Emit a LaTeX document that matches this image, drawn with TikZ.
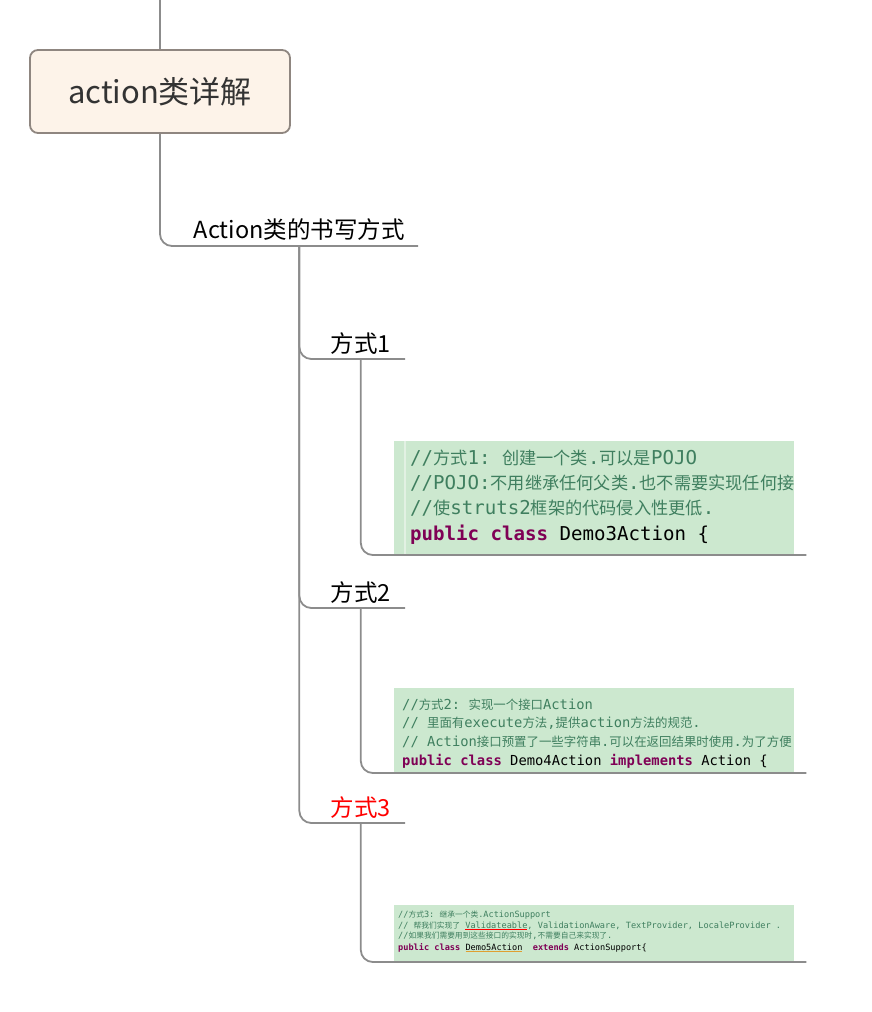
\documentclass[tikz,border=0pt]{standalone}
\usepackage{fontspec}
\setmainfont{Noto Sans CJK SC}
\setmonofont{DejaVu Sans Mono}
\newfontfamily\zhfont[Scale=0.9]{Noto Sans CJK SC}
\newcommand\zh[1]{{\zhfont #1}}
\definecolor{linegray}{HTML}{8C8C8C}
\definecolor{boxborder}{HTML}{8F8680}
\definecolor{rootfill}{HTML}{FDF3E9}
\definecolor{darktext}{HTML}{333333}
\definecolor{codebg}{HTML}{CCE8CF}
\definecolor{gutterline}{HTML}{E2F1E3}
\definecolor{commentgreen}{HTML}{3F7F5F}
\definecolor{keyword}{HTML}{7F0055}
\definecolor{warnyellow}{HTML}{E0A030}
\newcommand\kw[1]{\textcolor{keyword}{\bfseries #1}}
% marked word: a thin coloured line below it
\newcommand\markword[2]{\setbox0\hbox{#2}\rlap{\textcolor{#1}{\rule[-1.6pt]{\wd0}{0.6pt}}}\box0}
\newcommand\codeA{\ttfamily\fontsize{19.1}{24}\selectfont}
\newcommand\codeB{\ttfamily\fontsize{13.8}{18}\selectfont}
\newcommand\codeC{\ttfamily\fontsize{8.6}{11}\selectfont}
\begin{document}
\begin{tikzpicture}[x=1pt,y=-1pt,
        branch/.style={draw=linegray,line width=1.8pt,rounded corners=12pt},
        rootbox/.style={draw=boxborder,line width=1.8pt,fill=rootfill,
            rounded corners=8pt,minimum width=260pt,minimum height=83pt,
            text=darktext,font=\fontsize{31}{36}\selectfont},
        topic/.style={inner xsep=13pt,inner ysep=7pt,text depth=0pt,
            font=\fontsize{23.5}{28}\selectfont},
        way/.style={inner xsep=14pt,inner ysep=6pt,text depth=0pt,
            font=\fontsize{23.5}{28}\selectfont},
        codebox/.style={fill=codebg,inner sep=0pt,minimum width=400pt},
        codeline/.style={anchor=base west,inner sep=0pt,text=commentgreen}]
    \useasboundingbox (0,0) rectangle (872,1012);

    \coordinate (top) at (160,0);
    \node[rootbox] (root) at (160,91.5) {action类详解};
    \node[topic,anchor=south east] (ways) at (418,246) {Action类的书写方式};
    \node[way,anchor=south east] (way1) at (405,359) {方式1};
    \node[way,anchor=south east] (way2) at (405,608) {方式2};
    \node[way,anchor=south east,text=red] (way3) at (405,823) {方式3};

    % code pictures
    \node[codebox,minimum height=114pt,anchor=south west] (code1) at (394,555) {};
    \node[codebox,minimum height=85pt,anchor=south west] (code2) at (394,773) {};
    \node[codebox,minimum height=57pt,anchor=south west] (code3) at (394,962) {};
    \draw[gutterline,line width=1.5pt] ([xshift=11pt]code1.north west) -- ([xshift=11pt]code1.south west);

    \begin{scope}
    \clip (code1.south west) rectangle (code1.north east);
    \node[codeline,font=\codeA] (c1a) at (410,464) {//\zh{方式}1: \zh{创建一个类}.\zh{可以是}POJO};
    \node[codeline,font=\codeA] (c1b) at (410,489) {//POJO:\zh{不用继承任何父类}.\zh{也不需要实现任何接}};
    \node[codeline,font=\codeA] (c1c) at (410,514) {//\zh{使}struts2\zh{框架的代码侵入性更低}.};
    \node[codeline,font=\codeA] (c1d) at (410,540) {\kw{public class} \textcolor{black}{Demo3Action \{}};
    \end{scope}

    \begin{scope}
    \clip (code2.south west) rectangle (code2.north east);
    \node[codeline,font=\codeB] (c2a) at (402,709) {//\zh{方式}2: \zh{实现一个接口}Action};
    \node[codeline,font=\codeB] (c2b) at (402,727) {// \zh{里面有}execute\zh{方法},\zh{提供}action\zh{方法的规范}.};
    \node[codeline,font=\codeB] (c2c) at (402,746) {// Action\zh{接口预置了一些字符串}.\zh{可以在返回结果时使用}.\zh{为了方便}};
    \node[codeline,font=\codeB] (c2d) at (402,765) {\kw{public class} \textcolor{black}{Demo4Action} \kw{implements} \textcolor{black}{Action \{}};
    \end{scope}

    \begin{scope}
    \clip (code3.south west) rectangle (code3.north east);
    \node[codeline,font=\codeC] (c3a) at (398,917) {//\zh{方式}3: \zh{继承一个类}.ActionSupport};
    \node[codeline,font=\codeC] (c3b) at (398,928) {// \zh{帮我们实现了} \markword{red}{Validateable}, ValidationAware, TextProvider, LocaleProvider .};
    \node[codeline,font=\codeC] (c3c) at (398,938) {//\zh{如果我们需要用到这些接口的实现时},\zh{不需要自己来实现了}.};
    \node[codeline,font=\codeC] (c3d) at (398,950) {\kw{public class} \textcolor{black}{\markword{warnyellow}{Demo5Action}}\ \ \kw{extends} \textcolor{black}{ActionSupport\{}};
    \end{scope}

    % tree lines
    \draw[branch] (top) -- (root.north);
    \draw[branch] (root.south) |- (ways.south east);
    \foreach \w in {way1,way2,way3}
        \draw[branch] (ways.south) |- (\w.south east);
    \foreach \i in {1,2,3}
        \draw[branch] (way\i.south) |- ([xshift=12pt]code\i.south east);
\end{tikzpicture}
\end{document}
